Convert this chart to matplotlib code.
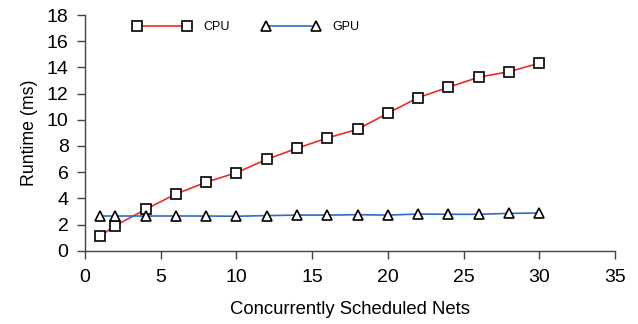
import matplotlib
matplotlib.use('Agg')
import matplotlib.pyplot as plt

# Datos
nets = [1, 2, 4, 6, 8, 10, 12, 14, 16, 18, 20, 22, 24, 26, 28, 30]
cpu_ms = [1.12, 1.91, 3.16, 4.33, 5.23, 5.96, 6.98, 7.82, 8.61, 9.27,
          10.5, 11.69, 12.48, 13.25, 13.67, 14.32]
gpu_ms = [2.65, 2.65, 2.65, 2.65, 2.65, 2.63, 2.68, 2.72, 2.72, 2.75,
          2.72, 2.8, 2.78, 2.78, 2.85, 2.88]
x_ticks = [0, 5, 10, 15, 20, 25, 30, 35]
y_ticks = [0, 2, 4, 6, 8, 10, 12, 14, 16, 18]

plt.rcParams['font.family'] = ['Liberation Sans', 'DejaVu Sans']

fig = plt.figure(figsize=(6.38, 3.24), dpi=100)
ax = fig.add_axes([0.1332, 0.2262, 0.964 - 0.1332, 0.9537 - 0.2262])

ax.plot(nets, cpu_ms, color='#ee2a2a', linewidth=1.2, marker='s', markersize=6.5,
        markerfacecolor='white', markeredgecolor='black', markeredgewidth=1.2,
        label='CPU')
ax.plot(nets, gpu_ms, color='#2f6cc2', linewidth=1.2, marker='^', markersize=7.5,
        markerfacecolor='white', markeredgecolor='black', markeredgewidth=1.2,
        label='GPU')

ax.set_xlim(0, 35)
ax.set_ylim(0, 18)
ax.set_xticks(x_ticks)
ax.set_yticks(y_ticks)
ax.tick_params(direction='out', length=5.8, width=1, color='#444444',
               labelsize=14, pad=6)
ax.tick_params(axis='x', pad=7.5)
for s in ['top', 'right']:
    ax.spines[s].set_visible(False)
for s in ['left', 'bottom']:
    ax.spines[s].set_color('#444444')
    ax.spines[s].set_linewidth(1)

ax.set_xlabel('Concurrently Scheduled Nets', fontsize=13.3, labelpad=11)
ax.set_ylabel('Runtime (ms)', fontsize=12.8, labelpad=6)

fig.legend(loc='upper left', bbox_to_anchor=(0.2085, 0.935), ncol=2,
           frameon=False, fontsize=9, numpoints=2, handlelength=4.6,
           handletextpad=1.0, columnspacing=2.6, borderpad=0, borderaxespad=0)

fig.savefig('out.png', dpi=100)
